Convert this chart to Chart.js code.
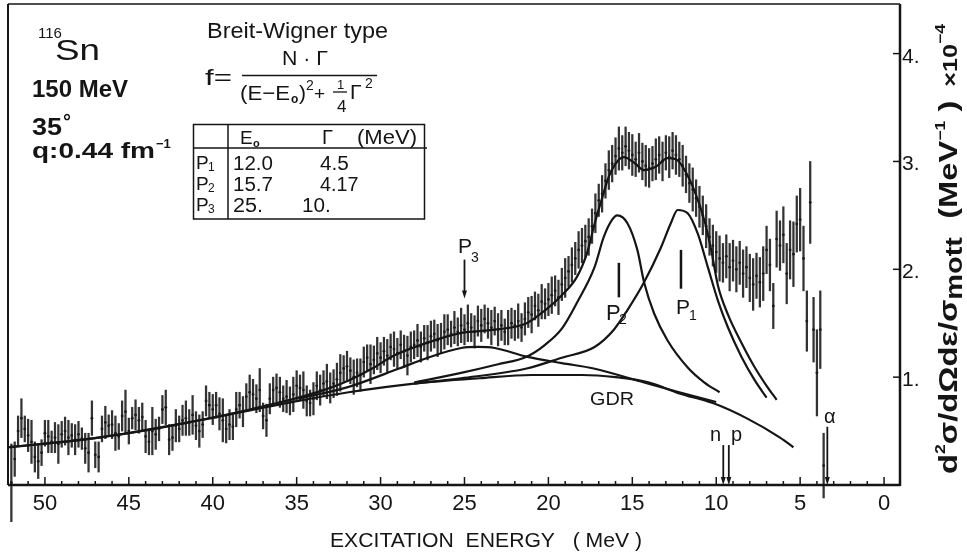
<!DOCTYPE html>
<html>
<head>
<meta charset="utf-8">
<script src="https://cdn.jsdelivr.net/npm/chart.js@4.4.1/dist/chart.umd.min.js"></script>
<style>
  html, body { margin: 0; padding: 0; background: #fff; }
  #chart { display: block; }
</style>
</head>
<body>
<canvas id="chart" width="967" height="552"></canvas>
<script>
// measured spectrum, excitation energy in MeV, cross section in 1e-4 MeV^-1
const energies = [
  52.0,51.8,51.6,51.4,51.2,51.0,50.8,50.6,50.4,50.2,
  50.0,49.8,49.6,49.4,49.2,49.0,48.8,48.6,48.4,48.2,
  48.0,47.8,47.6,47.4,47.2,47.0,46.8,46.6,46.4,46.2,
  46.0,45.8,45.6,45.4,45.2,45.0,44.8,44.6,44.4,44.2,
  44.0,43.8,43.6,43.4,43.2,43.0,42.8,42.6,42.4,42.2,
  42.0,41.8,41.6,41.4,41.2,41.0,40.8,40.6,40.4,40.2,
  40.0,39.8,39.6,39.4,39.2,39.0,38.8,38.6,38.4,38.2,
  38.0,37.8,37.6,37.4,37.2,37.0,36.8,36.6,36.4,36.2,
  36.0,35.8,35.6,35.4,35.2,35.0,34.8,34.6,34.4,34.2,
  34.0,33.8,33.6,33.4,33.2,33.0,32.8,32.6,32.4,32.2,
  32.0,31.8,31.6,31.4,31.2,31.0,30.8,30.6,30.4,30.2,
  30.0,29.8,29.6,29.4,29.2,29.0,28.8,28.6,28.4,28.2,
  28.0,27.8,27.6,27.4,27.2,27.0,26.8,26.6,26.4,26.2,
  26.0,25.8,25.6,25.4,25.2,25.0,24.8,24.6,24.4,24.2,
  24.0,23.8,23.6,23.4,23.2,23.0,22.8,22.6,22.4,22.2,
  22.0,21.8,21.6,21.4,21.2,21.0,20.8,20.6,20.4,20.2,
  20.0,19.8,19.6,19.4,19.2,19.0,18.8,18.6,18.4,18.2,
  18.0,17.8,17.6,17.4,17.2,17.0,16.8,16.6,16.4,16.2,
  16.0,15.8,15.6,15.4,15.2,15.0,14.8,14.6,14.4,14.2,
  14.0,13.8,13.6,13.4,13.2,13.0,12.8,12.6,12.4,12.2,
  12.0,11.8,11.6,11.4,11.2,11.0,10.8,10.6,10.4,10.2,
  10.0,9.8,9.6,9.4,9.2,9.0,8.8,8.6,8.4,8.2,
  8.0,7.8,7.6,7.4,7.2,7.0,6.8,6.6,6.4,6.2,
  6.0,5.8,5.6,5.4,5.2,5.0,4.8,4.6,4.4,4.2,
  4.0,3.8,3.6
];
const values = [
  0.02,0.24,0.50,0.62,0.52,0.46,0.40,0.26,0.22,0.30,
  0.48,0.45,0.40,0.44,0.38,0.47,0.50,0.44,0.46,0.42,
  0.47,0.43,0.34,0.30,0.62,0.28,0.26,0.52,0.58,0.55,
  0.56,0.48,0.45,0.64,0.68,0.50,0.62,0.65,0.60,0.63,
  0.45,0.40,0.50,0.47,0.52,0.70,0.72,0.42,0.44,0.55,
  0.52,0.60,0.62,0.58,0.65,0.55,0.50,0.56,0.78,0.74,
  0.70,0.74,0.66,0.60,0.52,0.56,0.54,0.70,0.74,0.68,
  0.82,0.86,0.84,0.80,0.88,0.64,0.60,0.80,0.88,0.90,
  0.86,0.80,0.82,0.78,0.84,0.92,0.90,0.88,0.78,0.76,
  0.80,0.92,0.88,0.94,0.96,0.90,0.94,0.98,1.04,1.08,
  1.10,1.06,1.00,1.04,1.02,1.14,1.18,1.12,1.16,1.22,
  1.18,1.24,1.20,1.28,1.26,1.22,1.30,1.24,1.20,1.28,
  1.30,1.34,1.28,1.36,1.32,1.38,1.40,1.34,1.36,1.42,
  1.44,1.40,1.46,1.42,1.48,1.44,1.50,1.46,1.42,1.52,
  1.48,1.54,1.50,1.46,1.52,1.44,1.48,1.42,1.46,1.50,
  1.48,1.52,1.46,1.54,1.60,1.58,1.66,1.62,1.70,1.68,
  1.72,1.76,1.80,1.74,1.86,1.92,1.98,2.04,2.10,2.18,
  2.22,2.26,2.30,2.40,2.52,2.64,2.70,2.82,2.92,2.98,
  3.05,3.12,3.08,3.14,3.10,3.06,3.02,3.08,3.00,2.96,
  2.94,2.98,3.02,3.06,3.00,3.08,3.04,3.10,3.06,3.02,
  2.96,2.88,2.80,2.74,2.66,2.58,2.50,2.40,2.30,2.22,
  2.16,2.10,2.06,2.12,2.02,2.08,2.00,2.06,1.96,2.02,
  1.92,1.86,1.94,1.88,1.96,2.18,2.04,1.66,2.28,2.22,
  2.32,1.96,2.18,2.14,2.42,2.46,2.10,1.52,2.62,1.44,
  1.04,1.44,0.18
];
const errors = [
  0.36,0.16,0.14,0.18,0.12,0.15,0.20,0.14,0.16,0.12,
  0.12,0.15,0.10,0.14,0.18,0.12,0.13,0.16,0.11,0.14,
  0.12,0.10,0.14,0.18,0.16,0.12,0.14,0.12,0.15,0.10,
  0.13,0.16,0.12,0.14,0.20,0.12,0.10,0.14,0.12,0.13,
  0.15,0.12,0.22,0.14,0.11,0.13,0.16,0.14,0.12,0.15,
  0.12,0.14,0.16,0.12,0.18,0.13,0.15,0.12,0.14,0.12,
  0.14,0.12,0.15,0.20,0.13,0.14,0.12,0.16,0.12,0.14,
  0.12,0.16,0.14,0.13,0.20,0.12,0.15,0.14,0.12,0.13,
  0.14,0.12,0.15,0.13,0.16,0.14,0.12,0.17,0.14,0.12,
  0.15,0.13,0.14,0.12,0.16,0.14,0.13,0.15,0.17,0.12,
  0.14,0.12,0.16,0.13,0.15,0.14,0.12,0.18,0.13,0.15,
  0.14,0.13,0.15,0.12,0.16,0.14,0.13,0.15,0.18,0.14,
  0.13,0.15,0.14,0.12,0.16,0.14,0.13,0.15,0.14,0.16,
  0.14,0.12,0.15,0.13,0.16,0.14,0.17,0.13,0.15,0.14,
  0.15,0.13,0.14,0.16,0.13,0.15,0.14,0.12,0.16,0.14,
  0.14,0.16,0.13,0.15,0.14,0.17,0.13,0.15,0.16,0.14,
  0.15,0.17,0.14,0.16,0.15,0.18,0.14,0.16,0.15,0.17,
  0.16,0.15,0.17,0.16,0.18,0.15,0.17,0.16,0.18,0.17,
  0.17,0.20,0.16,0.18,0.17,0.19,0.16,0.18,0.17,0.19,
  0.18,0.16,0.19,0.17,0.18,0.16,0.19,0.17,0.18,0.16,
  0.19,0.17,0.18,0.20,0.17,0.19,0.18,0.20,0.17,0.19,
  0.19,0.21,0.18,0.20,0.22,0.19,0.21,0.20,0.22,0.19,
  0.22,0.24,0.21,0.23,0.25,0.22,0.24,0.21,0.26,0.23,
  0.26,0.28,0.27,0.30,0.26,0.29,0.30,0.28,0.38,0.30,
  0.40,0.36,0.30
];

// fitted curves
const fitE = [52.2,49.5,46.8,43.8,40.8,37.8,34.9,33.4,31.9,30.5,29.2,27.2,25.2,23.2,21.3,20.2,19.2,18.3,17.7,17.25,16.8,16.4,15.9,15.5,14.9,14.3,13.6,12.9,12.4,12.0,11.3,10.7,10.3,9.9,9.3,8.5,7.7,7.0,6.4];
const fitY = [0.35,0.39,0.44,0.51,0.60,0.70,0.81,0.88,0.97,1.08,1.20,1.32,1.41,1.44,1.50,1.62,1.76,1.93,2.15,2.42,2.66,2.86,3.00,3.04,2.99,2.92,2.95,3.03,3.02,2.95,2.73,2.45,2.18,1.85,1.58,1.32,1.09,0.92,0.79];
const p1E = [28.0,25.2,21.3,19.2,17.25,16.1,15.3,14.3,13.3,12.7,12.3,11.7,11.1,10.5,9.9,9.3,8.5,7.7,7.0];
const p1Y = [0.94,0.99,1.08,1.18,1.28,1.44,1.62,1.88,2.20,2.43,2.55,2.52,2.33,2.02,1.71,1.46,1.19,0.97,0.81];
const p2E = [28.0,25.2,23.0,21.3,20.2,19.2,18.3,17.25,16.7,16.2,15.9,15.3,14.7,14.3,13.7,12.9,11.7,10.7,9.8];
const p2Y = [0.95,1.04,1.12,1.19,1.30,1.45,1.69,2.02,2.30,2.46,2.50,2.43,2.18,1.88,1.59,1.34,1.09,0.95,0.86];
const p3E = [34.9,31.9,28.9,27.2,25.2,24.2,23.2,21.3,19.2,17.3,14.3,12.2,10.0];
const p3Y = [0.80,0.91,1.08,1.18,1.27,1.28,1.27,1.19,1.13,1.08,0.95,0.86,0.77];
const bgE = [52.2,46.8,40.8,34.9,31.9,28.0,24.1,21.0,18.0,16.0,14.0,12.2,10.2,8.2,6.2,5.4];
const bgY = [0.35,0.44,0.60,0.78,0.86,0.94,0.99,1.02,1.02,1.00,0.95,0.85,0.76,0.62,0.44,0.35];

const xTicks = [50, 45, 40, 35, 30, 25, 20, 15, 10, 5, 0];
const yTicks = [1, 2, 3, 4];
const yTickLabels = ['1.', '2.', '3.', '4.'];

// thresholds: label, energy, arrow top
const thresholds = [['n', 9.58, 0.37], ['p', 9.25, 0.37], ['α', 3.38, 0.54]];

const FONT = '"Liberation Sans", Arial, sans-serif';
const INK = '#151515';

function pts(xs, ys) { return xs.map((e, i) => ({ x: e, y: ys[i] })); }

function curve(xs, ys) {
  return {
    type: 'line', data: pts(xs, ys), borderColor: INK, borderWidth: 2.2,
    pointRadius: 0, fill: false, tension: 0.4, cubicInterpolationMode: 'monotone', order: 1
  };
}

function line(ctx, x1, y1, x2, y2, w) {
  ctx.lineWidth = w;
  ctx.beginPath(); ctx.moveTo(x1, y1); ctx.lineTo(x2, y2); ctx.stroke();
}

// text squeezed/stretched to a given width
function txt(ctx, s, x, y, font, w) {
  ctx.font = font;
  if (!w) { ctx.fillText(s, x, y); return; }
  const m = ctx.measureText(s).width;
  ctx.save(); ctx.translate(x, y); ctx.scale(w / m, 1); ctx.fillText(s, 0, 0); ctx.restore();
}

function arrowDown(ctx, x, y1, y2) {
  line(ctx, x, y1, x, y2 - 6, 1.8);
  ctx.beginPath(); ctx.moveTo(x - 2.5, y2 - 8); ctx.lineTo(x + 2.5, y2 - 8); ctx.lineTo(x, y2); ctx.closePath(); ctx.fill();
}

const decor = {
  id: 'decor',
  afterDraw(chart) {
    const { ctx, chartArea: a, scales: { x, y } } = chart;
    ctx.save();
    ctx.strokeStyle = INK; ctx.fillStyle = INK;
    ctx.textBaseline = 'alphabetic'; ctx.textAlign = 'left';

    // frame
    line(ctx, a.left, a.top, a.right, a.top, 1.5);
    line(ctx, a.left, a.top, a.left, a.bottom, 2);
    line(ctx, a.right, a.top, a.right, a.bottom + 1, 2.5);
    line(ctx, a.left, a.bottom, a.right, a.bottom, 2.5);

    // x ticks, inward
    for (let v = 0; v <= 52; v++) {
      const px = x.getPixelForValue(v);
      line(ctx, px, a.bottom, px, a.bottom - (v % 5 ? 4 : 8), 1.5);
    }
    ctx.textAlign = 'center';
    ctx.font = '22px ' + FONT;
    xTicks.forEach(v => ctx.fillText(String(v), x.getPixelForValue(v), a.bottom + 25));

    // y ticks on the right axis
    ctx.textAlign = 'left';
    yTicks.forEach((v, i) => {
      const py = y.getPixelForValue(v);
      line(ctx, a.right - 7, py, a.right, py, 1.5);
      ctx.font = '21px ' + FONT;
      ctx.fillText(yTickLabels[i], a.right + 2, py + 9);
    });

    // x title
    txt(ctx, 'EXCITATION  ENERGY   ( MeV )', 330, 547, '21px ' + FONT, 312);

    // y title, rotated, reading upwards
    const runs = [
      ['d', 'bold 26px ' + FONT, 0], ['2', 'bold 14px ' + FONT, -12],
      ['σ/dΩdε/σ', 'bold 26px ' + FONT, 0], ['mott', 'bold 23px ' + FONT, 5],
      ['  (MeV', 'bold 26px ' + FONT, 0], ['−1', 'bold 14px ' + FONT, -12],
      [' )', 'bold 26px ' + FONT, 0], ['  ×10', 'bold 20px ' + FONT, 0],
      ['−4', 'bold 14px ' + FONT, -12]
    ];
    let total = 0;
    runs.forEach(r => { ctx.font = r[1]; r.push(ctx.measureText(r[0]).width); total += r[3]; });
    ctx.save();
    ctx.translate(957, 474); ctx.rotate(-Math.PI / 2); ctx.scale(450 / total, 1);
    let cx = 0;
    runs.forEach(r => { ctx.font = r[1]; ctx.fillText(r[0], cx, r[2]); cx += r[3]; });
    ctx.restore();

    // top left labels
    txt(ctx, '116', 38, 38, '15px ' + FONT);
    txt(ctx, 'Sn', 55, 60, '30px ' + FONT, 45);
    txt(ctx, '150 MeV', 32, 97, 'bold 23px ' + FONT, 96);
    txt(ctx, '35', 32, 135, 'bold 23px ' + FONT, 30);
    txt(ctx, '°', 63, 128, 'bold 20px ' + FONT);
    txt(ctx, 'q:0.44 fm', 32, 158, 'bold 22px ' + FONT, 123);
    txt(ctx, '−1', 156, 148, 'bold 13px ' + FONT);

    // formula
    txt(ctx, 'Breit-Wigner type', 207, 38, '22px ' + FONT, 181);
    txt(ctx, 'f=', 205, 85, '22px ' + FONT, 27);
    txt(ctx, 'N · Γ', 282, 65, '21px ' + FONT, 46);
    line(ctx, 242, 75.5, 377, 75.5, 1.5);
    txt(ctx, '(E−E', 240, 100, '21px ' + FONT, 50);
    txt(ctx, 'o', 291, 103, 'bold 12px ' + FONT);
    txt(ctx, ')', 299, 100, '21px ' + FONT);
    txt(ctx, '2', 306, 90, '14px ' + FONT);
    txt(ctx, '+', 314, 100, '19px ' + FONT);
    txt(ctx, '1', 337, 89, '13px ' + FONT);
    line(ctx, 333, 92, 347, 92, 1.3);
    txt(ctx, '4', 337, 112, '17px ' + FONT);
    txt(ctx, 'Γ', 350, 99, '21px ' + FONT);
    txt(ctx, '2', 365, 88, '14px ' + FONT);

    // parameter table
    ctx.lineWidth = 1.5;
    ctx.strokeRect(193.5, 124.5, 231, 94.5);
    line(ctx, 193, 148, 427, 148, 1.5);
    line(ctx, 228, 124, 228, 219, 1.5);
    txt(ctx, 'E', 240, 144, '19px ' + FONT);
    txt(ctx, 'o', 253, 147, 'bold 11px ' + FONT);
    txt(ctx, 'Γ', 322, 144, '20px ' + FONT);
    txt(ctx, '(MeV)', 357, 144, '20px ' + FONT, 60);
    const rows = [['1', '12.0', '4.5', 320, 170], ['2', '15.7', '4.17', 320, 191], ['3', '25.', '10.', 302, 212]];
    rows.forEach(r => {
      txt(ctx, 'P', 196, r[4] - 1, '19px ' + FONT);
      txt(ctx, r[0], 208, r[4] + 1, '12px ' + FONT);
      txt(ctx, r[1], 233, r[4], '20px ' + FONT, r[1].length * 10);
      txt(ctx, r[2], r[3], r[4], '20px ' + FONT, r[2].length * 9.6);
    });

    // peak markers
    const px3 = x.getPixelForValue(25.0);
    arrowDown(ctx, px3, y.getPixelForValue(2.09), y.getPixelForValue(1.73));
    txt(ctx, 'P', 458, 253, '21px ' + FONT);
    txt(ctx, '3', 471, 262, '14px ' + FONT);
    const px2 = x.getPixelForValue(15.8);
    line(ctx, px2, y.getPixelForValue(2.06), px2, y.getPixelForValue(1.74), 2.5);
    txt(ctx, 'P', 606, 320, '22px ' + FONT);
    txt(ctx, '2', 619, 324, '14px ' + FONT);
    const px1 = x.getPixelForValue(12.1);
    line(ctx, px1, y.getPixelForValue(2.18), px1, y.getPixelForValue(1.82), 2.5);
    txt(ctx, 'P', 676, 314, '21px ' + FONT);
    txt(ctx, '1', 689, 320, '14px ' + FONT);
    txt(ctx, 'GDR', 590, 405, '18px ' + FONT, 44);

    // particle thresholds
    thresholds.forEach(t => {
      arrowDown(ctx, x.getPixelForValue(t[1]), y.getPixelForValue(t[2]), a.bottom);
    });
    txt(ctx, 'n', 710, 441, '20px ' + FONT);
    txt(ctx, 'p', 731, 441, '20px ' + FONT);
    txt(ctx, 'α', 824, 423, '20px ' + FONT);
    ctx.restore();
  }
};

new Chart(document.getElementById('chart').getContext('2d'), {
  type: 'scatter',
  data: {
    datasets: [
      curve(fitE, fitY),
      curve(p1E, p1Y),
      curve(p2E, p2Y),
      curve(p3E, p3Y),
      curve(bgE, bgY),
      {
        type: 'scatter', data: pts(energies, values), pointRadius: 1.4,
        backgroundColor: '#1a1a1a', borderWidth: 0, order: 2
      },
      {
        type: 'bar',
        data: energies.map((e, i) => ({ x: e, y: [values[i] - errors[i], values[i] + errors[i]] })),
        backgroundColor: '#333', barThickness: 1.6, order: 3, clip: false
      }
    ]
  },
  options: {
    responsive: false,
    animation: false,
    layout: { padding: { left: 8, right: 67, top: 4, bottom: 67 } },
    plugins: { legend: { display: false }, tooltip: { enabled: false } },
    scales: {
      x: { type: 'linear', reverse: true, offset: false, min: -0.95, max: 52.2, display: false },
      y: { type: 'linear', min: 0, max: 4.46, display: false }
    }
  },
  plugins: [decor]
});
</script>
</body>
</html>
